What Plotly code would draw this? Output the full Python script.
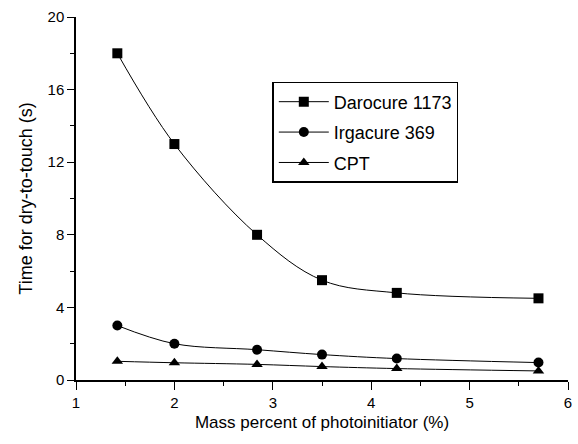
import plotly.graph_objects as go

x_vals = [1.42, 2.0, 2.84, 3.5, 4.26, 5.7]
darocure = [18.0, 13.0, 8.0, 5.5, 4.8, 4.5]
irgacure = [3.0, 2.0, 1.67, 1.4, 1.18, 0.96]
cpt = [1.03, 0.95, 0.86, 0.74, 0.63, 0.5]

series = [
    ("Darocure 1173", darocure, "square"),
    ("Irgacure 369", irgacure, "circle"),
    ("CPT", cpt, "triangle-up"),
]

fig = go.Figure()
for i, (name, ys, sym) in enumerate(series):
    fig.add_trace(go.Scatter(
        x=x_vals, y=ys, name=name, mode="lines+markers",
        line=dict(color="black", width=1, shape="spline", smoothing=1.0),
        marker=dict(symbol=sym, size=10, color="black"),
        legendgroup=f"g{i}",
    ))

fig.update_layout(
    width=578, height=444,
    margin=dict(l=76, r=6, t=17, b=64),
    paper_bgcolor="white", plot_bgcolor="white",
    font=dict(family="Liberation Sans, Arial, sans-serif", color="black", size=15),
    showlegend=True,
    legend=dict(
        x=0.399, y=0.821, xanchor="left", yanchor="top",
        bordercolor="black", borderwidth=1.5,
        font=dict(size=18), tracegroupgap=4, itemwidth=50,
        traceorder="grouped",
        bgcolor="white",
    ),
    xaxis=dict(
        range=[1, 6], tickvals=[1, 2, 3, 4, 5, 6],
        ticks="outside", ticklen=8, tickwidth=1.2, tickcolor="black",
        showline=True, linecolor="black", linewidth=1.5,
        showgrid=False, zeroline=False,
        minor=dict(tickvals=[1.5, 2.5, 3.5, 4.5, 5.5], ticks="outside", ticklen=4, tickcolor="black"),
        title=dict(text="Mass percent of photoinitiator (%)", font=dict(size=17), standoff=6),
        tickfont=dict(size=15),
    ),
    yaxis=dict(
        range=[0, 20], tickvals=[0, 4, 8, 12, 16, 20],
        ticks="outside", ticklen=7, tickwidth=1.2, tickcolor="black",
        showline=True, linecolor="black", linewidth=1.5,
        showgrid=False, zeroline=False,
        minor=dict(tickvals=[2, 6, 10, 14, 18], ticks="outside", ticklen=4, tickcolor="black"),
        title=dict(text="Time for dry-to-touch (s)", font=dict(size=18), standoff=10),
        tickfont=dict(size=15),
    ),
)

fig.write_html("out.html")
